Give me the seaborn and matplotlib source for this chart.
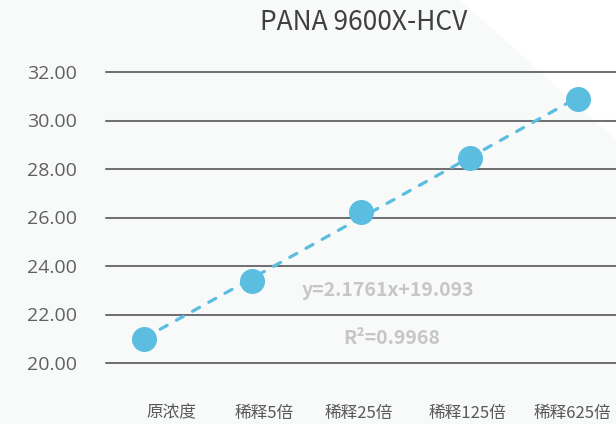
import numpy as np
import matplotlib
matplotlib.use('Agg')
import matplotlib.pyplot as plt
import matplotlib.transforms as mtransforms
import seaborn as sns
from matplotlib.patches import Polygon

# ── Data ─────────────────────────────────────
categories = ['原浓度', '稀释5倍', '稀释25倍', '稀释125倍', '稀释625倍']
values = [21.00, 23.38, 26.22, 28.47, 30.87]
y_ticks = [20, 22, 24, 26, 28, 30, 32]
title = 'PANA 9600X-HCV'
equation = 'y=2.1761x+19.093'
r_squared = 'R²=0.9968'

point_color = '#5bbde0'
grid_color = '#707075'
bg_color = '#f8f9f9'

sns.set_theme(style='white')
plt.rcParams['font.family'] = ['Noto Sans CJK SC', 'DejaVu Sans']

fig = plt.figure(figsize=(6.16, 4.24), dpi=100)
fig.patch.set_facecolor(bg_color)

# white corner in the top right (background decoration)
fig.patches.append(Polygon(
    [(460 / 616, 1.0), (1.0, 1.0), (1.0, 1 - 140 / 424)],
    closed=True, transform=fig.transFigure,
    facecolor='white', edgecolor='none', zorder=-5
))

ax = fig.add_axes([106 / 616, 1 - 363 / 424, 1 - 106 / 616, (363 - 72) / 424])
ax.set_facecolor('none')
ax.set_zorder(2)

x = np.arange(len(categories))

# ── Trend line + points ──────────────────────
sns.regplot(
    x=x, y=values, ax=ax, ci=None, truncate=True,
    scatter_kws=dict(s=18 ** 2, color=point_color, alpha=1,
                     linewidths=0, zorder=3),
    line_kws=dict(color=point_color, linewidth=2.3,
                  linestyle=(0, (2.5, 3.3)),
                  dash_capstyle='round', zorder=2)
)

ax.set_xlim(-0.35, 4.35)
ax.set_ylim(20, 32)
ax.set_yticks(y_ticks)
ax.set_yticklabels([f'{v:.2f}' for v in y_ticks], family=['Open Sans', 'DejaVu Sans'])
ax.set_xticks(x)
ax.set_xticklabels(categories)

ax.grid(axis='y', color=grid_color, linewidth=1.45)
ax.grid(axis='x', visible=False)
ax.set_axisbelow(True)
for line in ax.get_ygridlines():
    line.set_clip_on(False)

for spine in ax.spines.values():
    spine.set_visible(False)

ax.tick_params(axis='y', length=0, pad=21, labelsize=14,
               labelcolor='#606060')
ax.tick_params(axis='x', length=0, pad=30, labelsize=12,
               labelcolor='#595959')

# category labels sit a little off the points in the original
label_shift_px = [27, 12, -2, -2, -6]
for lab, dx in zip(ax.get_xticklabels(), label_shift_px):
    lab.set_transform(lab.get_transform() +
                      mtransforms.ScaledTranslation(dx / 100, 0, fig.dpi_scale_trans))

# ── Equation text ────────────────────────────
ax.text(2.25, 23.0, equation, ha='center', va='center',
        fontsize=14, color='#c6c6c6', fontweight='semibold')
ax.text(2.28, 21.03, r_squared, ha='center', va='center',
        fontsize=14, color='#c6c6c6', fontweight='semibold')

fig.text(364 / 616, 1 - 23 / 424, title, ha='center', va='center',
         fontsize=19, color='#404040')

fig.savefig('out.png', dpi=100, facecolor=fig.get_facecolor())
